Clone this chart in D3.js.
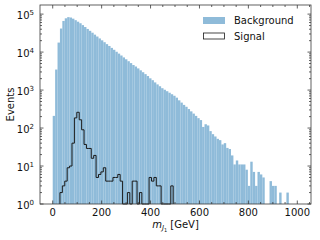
<html>
<head>
<meta charset="utf-8">
<title>Jet mass</title>
<style>
  body { margin: 0; background: #fff; }
  svg { display: block; font-family: 'DejaVu Sans', sans-serif; }
</style>
</head>
<body>
<div id="chart"></div>
<script src="https://cdn.jsdelivr.net/npm/d3@7/dist/d3.min.js"></script>
<script>
  // bin width in GeV (100 bins starting at 0)
  const binWidth = 9.85

  // background counts per bin
  const background = [
    209, 3470, 17800, 41700, 66100, 77600, 83200, 81300, 75900, 69200,
    63100, 57500, 51300, 45700, 40700, 36300, 32400, 28800, 25700, 22900,
    20400, 18200, 16200, 14500, 12900, 11500, 10200, 9120, 8130, 7240,
    6460, 5750, 5130, 4570, 4170, 3720, 3310, 2950, 2630, 2340,
    2040, 1820, 1590, 1410, 1260, 1120, 1020, 933, 851, 776,
    708, 631, 537, 468, 407, 363, 316, 275, 240, 209,
    182, 162, 107, 126, 117, 83, 69, 60, 52, 48,
    37, 40, 30, 28, 19, 11, 14, 11, 11, 11,
    8, 3, 13, 7, 3, 7, 6, 5, 0, 0,
    4, 3, 3, 0, 2, 0, 0, 2, 1, 0
  ]

  // signal counts per bin
  const signal = [
    0, 0, 0, 2, 3, 4, 9, 10, 40, 185,
    260, 165, 90, 37, 29, 29, 16, 19, 5, 6,
    7, 9, 4, 4, 4, 5, 5, 6, 4, 0,
    0, 2, 0, 4, 4, 0, 2, 0, 0, 0,
    5, 4, 5, 3, 3, 0, 0, 0, 0, 3,
    0, 0, 0, 0, 0, 0, 0, 0, 0, 0
  ]

  const xTicks = [0, 200, 400, 600, 800, 1000]
  const yTicks = [1, 10, 100, 1000, 10000, 100000]
  const legendLabels = ['Background', 'Signal']

  const W = 320, H = 240
  const margin = { top: 5, right: 9, bottom: 36, left: 40 }

  const x = d3.scaleLinear()
    .domain([-52, 1056])
    .range([margin.left, W - margin.right])

  const y = d3.scaleLog()
    .domain([1, Math.pow(10, 5.24)])
    .range([H - margin.bottom, margin.top])

  const svg = d3.select('#chart').append('svg')
    .attr('width', W)
    .attr('height', H)

  const bgColor = '#8fbbd9'

  // background bars
  svg.append('g')
    .selectAll('rect')
    .data(background.map((v, i) => ({ i, v })).filter(d => d.v >= 1))
    .join('rect')
    .attr('x', d => x(d.i * binWidth))
    .attr('width', d => x((d.i + 1) * binWidth) - x(d.i * binWidth))
    .attr('y', d => y(d.v))
    .attr('height', d => y(1) - y(d.v))
    .attr('fill', bgColor)

  // signal step outline
  const first = signal.findIndex(v => v > 0)
  let last = signal.length - 1
  while (signal[last] === 0) last--
  const pts = []
  pts.push([first * binWidth, 1])
  for (let i = first; i <= last; i++) {
    const v = Math.max(signal[i], 1)
    pts.push([i * binWidth, v])
    pts.push([(i + 1) * binWidth, v])
  }
  pts.push([(last + 1) * binWidth, 1])

  svg.append('path')
    .attr('d', d3.line().x(d => x(d[0])).y(d => y(d[1]))(pts))
    .attr('fill', 'none')
    .attr('stroke', '#1a1a1a')
    .attr('stroke-width', 1)

  // frame
  const x0 = margin.left, x1 = W - margin.right
  const y0 = margin.top, y1 = H - margin.bottom
  svg.append('rect')
    .attr('x', x0).attr('y', y0)
    .attr('width', x1 - x0).attr('height', y1 - y0)
    .attr('fill', 'none')
    .attr('stroke', '#3a3a3a')
    .attr('stroke-width', 0.8)

  // ticks (inward, all sides)
  const ticks = svg.append('g').attr('stroke', '#3a3a3a').attr('stroke-width', 0.8)
  const xMinor = d3.range(0, 1051, 50).filter(v => v % 200 !== 0)
  xTicks.forEach(t => {
    ticks.append('line').attr('x1', x(t)).attr('x2', x(t)).attr('y1', y1).attr('y2', y1 - 3.5)
    ticks.append('line').attr('x1', x(t)).attr('x2', x(t)).attr('y1', y0).attr('y2', y0 + 3.5)
  })
  xMinor.forEach(t => {
    ticks.append('line').attr('x1', x(t)).attr('x2', x(t)).attr('y1', y1).attr('y2', y1 - 2)
    ticks.append('line').attr('x1', x(t)).attr('x2', x(t)).attr('y1', y0).attr('y2', y0 + 2)
  })
  yTicks.forEach(t => {
    ticks.append('line').attr('x1', x0).attr('x2', x0 + 3.5).attr('y1', y(t)).attr('y2', y(t))
    ticks.append('line').attr('x1', x1).attr('x2', x1 - 3.5).attr('y1', y(t)).attr('y2', y(t))
  })
  const yMinor = []
  yTicks.forEach(t => d3.range(2, 10).forEach(m => {
    if (t * m <= y.domain()[1]) yMinor.push(t * m)
  }))
  yMinor.forEach(t => {
    ticks.append('line').attr('x1', x0).attr('x2', x0 + 2).attr('y1', y(t)).attr('y2', y(t))
    ticks.append('line').attr('x1', x1).attr('x2', x1 - 2).attr('y1', y(t)).attr('y2', y(t))
  })

  // x tick labels
  svg.append('g')
    .selectAll('text')
    .data(xTicks)
    .join('text')
    .attr('x', d => x(d))
    .attr('y', y1 + 11.5)
    .attr('text-anchor', 'middle')
    .attr('font-size', 10)
    .attr('fill', '#111')
    .text(d => d)

  // y tick labels 10^k
  const yl = svg.append('g')
    .selectAll('text')
    .data(yTicks)
    .join('text')
    .attr('x', x0 - 6)
    .attr('y', d => y(d) + 5)
    .attr('text-anchor', 'end')
    .attr('font-size', 10)
    .attr('fill', '#111')
  yl.append('tspan').text('10')
  yl.append('tspan')
    .attr('font-size', 7)
    .attr('dy', -4.5)
    .text(d => Math.round(Math.log10(d)))

  // axis titles
  svg.append('text')
    .attr('transform', `translate(14,${(y0 + y1) / 2}) rotate(-90)`)
    .attr('text-anchor', 'middle')
    .attr('font-size', 10)
    .attr('fill', '#111')
    .text('Events')

  const xl = svg.append('text')
    .attr('x', (x0 + x1) / 2)
    .attr('y', 228)
    .attr('text-anchor', 'middle')
    .attr('font-size', 10)
    .attr('fill', '#111')
  xl.append('tspan').attr('font-style', 'italic').text('m')
  xl.append('tspan').attr('font-style', 'italic').attr('font-size', 7).attr('dy', 2).text('J')
  xl.append('tspan').attr('font-size', 5).attr('dy', 1.5).text('1')
  xl.append('tspan').attr('dy', -3.5).text(' [GeV]')

  // legend
  const legend = svg.append('g')
  legend.append('rect')
    .attr('x', 203).attr('y', 17).attr('width', 22).attr('height', 7)
    .attr('fill', bgColor)
  legend.append('rect')
    .attr('x', 203.5).attr('y', 33).attr('width', 21).attr('height', 6)
    .attr('fill', 'none').attr('stroke', '#1a1a1a').attr('stroke-width', 0.8)
  legend.selectAll('text')
    .data(legendLabels)
    .join('text')
    .attr('x', 234)
    .attr('y', (d, i) => 24 + i * 16)
    .attr('font-size', 10)
    .attr('fill', '#111')
    .text(d => d)
</script>
</body>
</html>
